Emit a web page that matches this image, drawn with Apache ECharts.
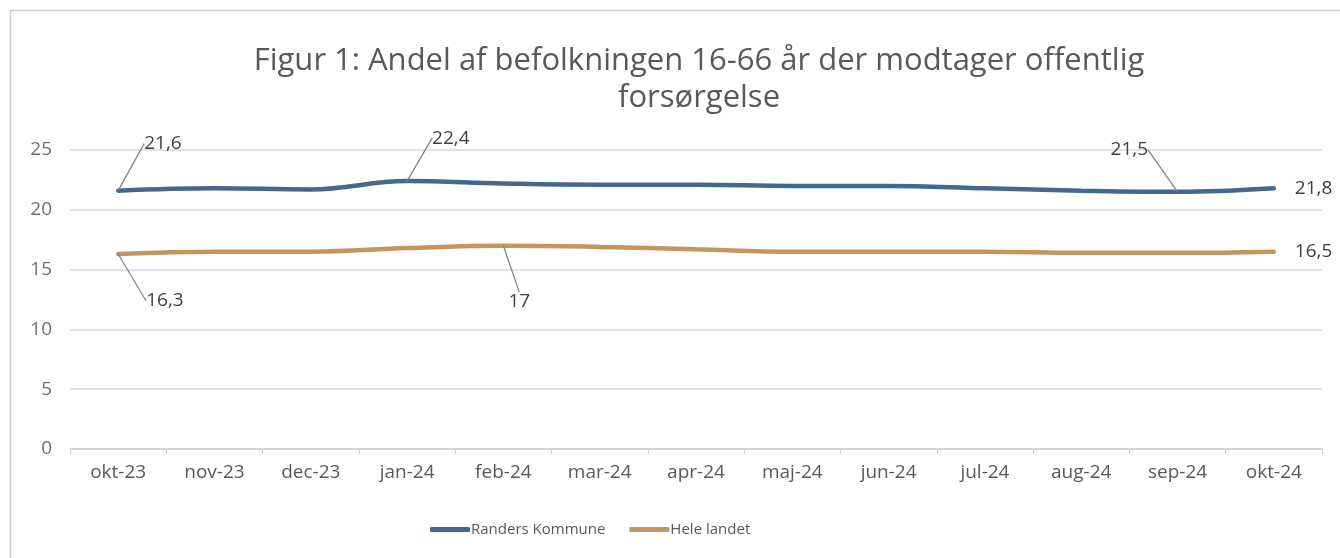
<!DOCTYPE html>
<html>
<head>
<meta charset="utf-8">
<script src="https://cdn.jsdelivr.net/npm/echarts@6/dist/echarts.min.js"></script>
<style>
  html, body { margin: 0; padding: 0; background: #fff; }
  #chart { width: 1340px; height: 558px; }
</style>
</head>
<body>
<div id="chart"></div>
<script>
    let line_chart = echarts.init(document.getElementById("chart"));

    const months = ['okt-23', 'nov-23', 'dec-23', 'jan-24', 'feb-24', 'mar-24', 'apr-24',
        'maj-24', 'jun-24', 'jul-24', 'aug-24', 'sep-24', 'okt-24']
    const randers = [21.6, 21.8, 21.7, 22.4, 22.2, 22.1, 22.1, 22.0, 22.0, 21.8, 21.6, 21.5, 21.8]
    const hele_landet = [16.3, 16.5, 16.5, 16.8, 17.0, 16.9, 16.7, 16.5, 16.5, 16.5, 16.4, 16.4, 16.5]
    const y_ticks = [0, 5, 10, 15, 20, 25]

    // which points get a data label, and where it is pushed to
    const randers_labels = {0: [18, -47], 3: [17, -43], 11: [-75, -42], 12: [13, 0]}
    const landet_labels = {0: [20, 47], 4: [-3, 56], 12: [13, 0]}

    const grey = '#595959'
    const font = 'Open Sans, Liberation Sans, sans-serif'

    function fmt(v) {
        return String(v).replace('.', ',')
    }

    function make_data(values, labels) {
        return values.map((val, index) => {
            const shown = labels[index] !== undefined
            return {
                value: val,
                label: {show: shown},
                labelLine: {show: shown && index !== values.length - 1}
            }
        })
    }

    function make_layout(labels) {
        return function (params) {
            const off = labels[params.dataIndex]
            if (!off) return {}
            return {dx: off[0], dy: off[1]}
        }
    }

    function make_series(name, values, labels, color) {
        return {
            name: name,
            type: 'line',
            smooth: 0.4,
            symbol: 'circle',
            symbolSize: 0.01,
            showSymbol: true,
            color: color,
            lineStyle: {width: 4.5, cap: 'round', color: color},
            data: make_data(values, labels),
            label: {
                position: 'right',
                distance: 8,
                color: '#404040',
                fontFamily: font,
                fontSize: 19,
                formatter: (p) => fmt(p.value)
            },
            labelLine: {lineStyle: {color: '#808080', width: 1.2}},
            labelLayout: make_layout(labels)
        }
    }

    let option = {
        backgroundColor: '#fff',
        animation: false,
        title: {
            text: 'Figur 1: Andel af befolkningen 16-66 år der modtager offentlig\nforsørgelse',
            left: 694,
            textAlign: 'center',
            top: 38,
            textStyle: {
                color: grey,
                fontFamily: font,
                fontWeight: 'normal',
                fontSize: 31,
                lineHeight: 37
            }
        },
        graphic: [{
            type: 'rect',
            shape: {x: 10.5, y: 10.5, width: 1340, height: 560},
            style: {fill: 'none', stroke: '#d0d0d0', lineWidth: 1.5},
            silent: true
        }],
        legend: {
            bottom: 16,
            left: 425,
            itemWidth: 40,
            itemHeight: 5,
            itemGap: 24,
            icon: 'roundRect',
            textStyle: {color: grey, fontFamily: font, fontSize: 15, padding: [0, 0, 0, -4]},
            data: ['Randers Kommune', 'Hele landet']
        },
        grid: {left: 70, right: 18, top: 150, bottom: 109},
        xAxis: {
            type: 'category',
            data: months,
            boundaryGap: true,
            axisLine: {lineStyle: {color: '#d0d0d0', width: 1.5}},
            axisTick: {show: true, length: 5, lineStyle: {color: '#d0d0d0'}},
            axisLabel: {color: grey, fontFamily: font, fontSize: 19, margin: 14}
        },
        yAxis: {
            type: 'value',
            min: y_ticks[0],
            max: y_ticks[y_ticks.length - 1],
            interval: 5,
            axisLine: {show: false},
            axisTick: {show: false},
            axisLabel: {color: '#707070', fontFamily: font, fontSize: 19, margin: 18},
            splitLine: {lineStyle: {color: '#d9d9d9', width: 1.5}}
        },
        series: [
            make_series('Randers Kommune', randers, randers_labels, '#44698f'),
            make_series('Hele landet', hele_landet, landet_labels, '#c49461')
        ]
    };

    line_chart.setOption(option);
</script>
</body>
</html>
